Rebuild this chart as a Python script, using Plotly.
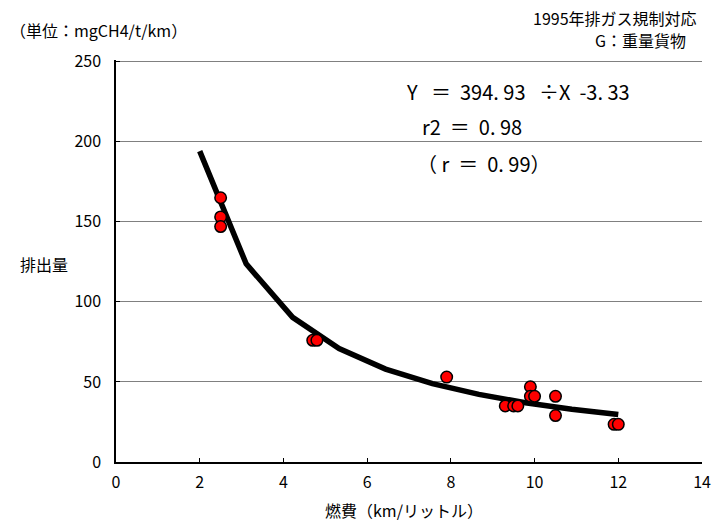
import plotly.graph_objects as go

# Measured data points (fuel economy km/L, emission mgCH4/t/km)
obs_x = [2.5, 2.5, 2.5, 4.7, 4.8, 7.9, 9.3, 9.5, 9.6, 9.9, 9.9, 10.0, 10.5, 10.5, 11.9, 12.0]
obs_y = [165, 153, 147, 76, 76, 53, 35, 35, 35, 47, 41, 41, 41, 29, 23.5, 23.5]

# Fitted curve points (Y = 394.93/X - 3.33), read at the drawn vertices
fit_x = [2.0, 3.11, 4.22, 5.33, 6.44, 7.56, 8.67, 9.78, 10.89, 12.0]
fit_y = [194.1, 123.7, 90.3, 70.8, 58.0, 48.9, 42.2, 37.0, 32.9, 29.6]

x_ticks = [0, 2, 4, 6, 8, 10, 12, 14]
y_ticks = [0, 50, 100, 150, 200, 250]

FONT = "Noto Sans CJK JP"

fig = go.Figure()
fig.add_trace(go.Scatter(x=fit_x, y=fit_y, mode="lines",
                         line=dict(color="black", width=5.5), hoverinfo="skip"))
fig.add_trace(go.Scatter(x=obs_x, y=obs_y, mode="markers",
                         marker=dict(color="#ff0000", size=11.5,
                                     line=dict(color="black", width=1.5))))

W, H = 720, 527
L, R, B = 116, 9, 65
T = 60.4  # small headroom so the 250 gridline is drawn inside the plot area
pw, ph = W - L - R, H - T - B

def px(xpix):
    return (xpix - L) / pw

def py(ypix):
    return (H - B - ypix) / ph

anns = [
    dict(text="（単位：mgCH4/t/km）", x=px(6), y=py(30), xanchor="left", size=16),
    dict(text="1995年排ガス規制対応", x=px(708), y=py(18), xanchor="right", size=16),
    dict(text="G：重量貨物", x=px(697), y=py(40), xanchor="right", size=16),
    dict(text="Y   ＝  394. 93   ÷X  -3. 33", x=px(408), y=py(92), xanchor="left", size=20),
    dict(text="r2  ＝  0. 98", x=px(425), y=py(127), xanchor="left", size=20),
    dict(text="（ r  ＝  0. 99）", x=px(420), y=py(164), xanchor="left", size=20),
    dict(text="排出量", x=px(16), y=py(264), xanchor="left", size=16),
    dict(text="燃費（km/リットル）", x=px(408), y=py(510), xanchor="center", size=16),
]
annotations = []
for a in anns:
    annotations.append(dict(text=a["text"], x=a["x"], y=a["y"], xref="paper", yref="paper",
                            xanchor=a["xanchor"], yanchor="middle", showarrow=False,
                            font=dict(family=FONT, size=a["size"], color="black")))

fig.update_layout(
    width=W, height=H,
    margin=dict(l=L, r=R, t=T, b=B, pad=0),
    paper_bgcolor="white", plot_bgcolor="white",
    showlegend=False,
    font=dict(family=FONT, size=15, color="black"),
    annotations=annotations,
    xaxis=dict(range=[0, 14], tickvals=x_ticks, ticks="inside", ticklen=4, tickcolor="black",
               showline=True, linecolor="black", linewidth=1.5, showgrid=False, zeroline=False,
               ticklabelstandoff=5,
               tickfont=dict(family=FONT, size=16)),
    yaxis=dict(range=[0, 251], tickvals=y_ticks, ticks="inside", ticklen=4, tickcolor="black",
               showline=True, linecolor="black", linewidth=1.5, showgrid=True,
               gridcolor="#808080", gridwidth=1, zeroline=False,
               ticklabelstandoff=10,
               tickfont=dict(family=FONT, size=16)),
)

fig.write_html("out.html")
